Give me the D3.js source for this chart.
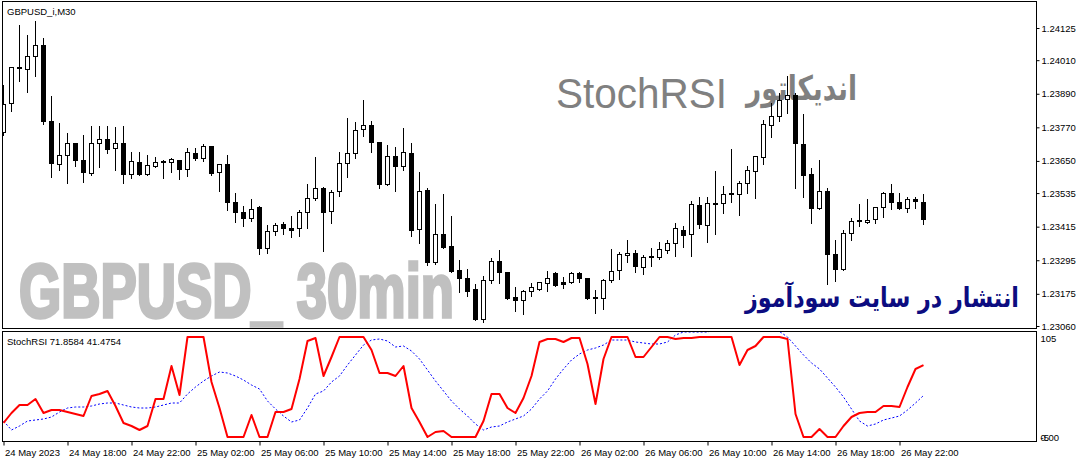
<!DOCTYPE html>
<html><head><meta charset="utf-8">
<script src="https://cdn.jsdelivr.net/npm/d3@7"></script>
<style>html,body{margin:0;padding:0;background:#fff;} svg{display:block;}</style>
</head><body>
<svg id="c" width="1083" height="462"></svg>
<script>
// ---------------- DATA ----------------
const symbolLabel = "GBPUSD_i,M30";
const startTime = "2023-05-24 14:00"; // first bar, M30 bars
const open = [1.23751,1.23856,1.23984,1.23977,1.24024,1.24064,1.23790,1.23638,1.23669,1.23713,
1.23653,1.23606,1.23713,1.23725,1.23695,1.23713,1.23602,1.23645,1.23602,1.23631,
1.23646,1.23645,1.23650,1.23619,1.23677,1.23659,1.23701,1.23609,1.23638,1.23502,
1.23467,1.23445,1.23483,1.23338,1.23399,1.23421,1.23410,1.23407,1.23466,1.23514,
1.23550,1.23468,1.23541,1.23641,1.23675,1.23763,1.23776,1.23716,1.23566,1.23665,
1.23631,1.23675,1.23405,1.23546,1.23286,1.23388,1.23343,1.23260,1.23228,1.23189,
1.23085,1.23222,1.23292,1.23252,1.23161,1.23150,1.23183,1.23192,1.23212,1.23249,
1.23214,1.23215,1.23249,1.23231,1.23161,1.23157,1.23224,1.23257,1.23311,1.23320,
1.23268,1.23309,1.23304,1.23329,1.23355,1.23403,1.23388,1.23492,1.23420,1.23498,
1.23498,1.23534,1.23531,1.23570,1.23611,1.23663,1.23776,1.23808,1.23870,1.23885,
1.23710,1.23600,1.23481,1.23540,1.23317,1.23263,1.23389,1.23435,1.23429,1.23441,
1.23484,1.23534,1.23502,1.23481,1.23513,1.23502];
const high = [1.23921,1.23986,1.24136,1.24100,1.24150,1.24088,1.23882,1.23784,1.23749,1.23715,
1.23743,1.23775,1.23775,1.23775,1.23772,1.23775,1.23681,1.23681,1.23671,1.23665,
1.23653,1.23661,1.23653,1.23697,1.23697,1.23710,1.23703,1.23640,1.23671,1.23534,
1.23489,1.23514,1.23489,1.23421,1.23429,1.23430,1.23453,1.23474,1.23567,1.23663,
1.23556,1.23546,1.23683,1.23804,1.23788,1.23868,1.23793,1.23718,1.23707,1.23699,
1.23766,1.23713,1.23610,1.23552,1.23496,1.23532,1.23453,1.23296,1.23264,1.23210,
1.23239,1.23304,1.23332,1.23254,1.23200,1.23189,1.23212,1.23218,1.23256,1.23253,
1.23234,1.23253,1.23253,1.23233,1.23189,1.23229,1.23335,1.23323,1.23367,1.23332,
1.23314,1.23338,1.23359,1.23367,1.23429,1.23417,1.23507,1.23522,1.23522,1.23614,
1.23560,1.23692,1.23579,1.23632,1.23665,1.23796,1.23858,1.23892,1.23953,1.23892,
1.23818,1.23626,1.23653,1.23554,1.23367,1.23403,1.23445,1.23496,1.23514,1.23486,
1.23540,1.23567,1.23534,1.23522,1.23522,1.23532];
const low = [1.23743,1.23829,1.23937,1.23897,1.23954,1.23781,1.23594,1.23617,1.23572,1.23633,
1.23576,1.23600,1.23629,1.23679,1.23617,1.23572,1.23588,1.23600,1.23600,1.23627,
1.23590,1.23611,1.23584,1.23597,1.23653,1.23651,1.23600,1.23543,1.23474,1.23433,
1.23418,1.23436,1.23316,1.23322,1.23385,1.23388,1.23379,1.23383,1.23411,1.23512,
1.23329,1.23429,1.23525,1.23594,1.23659,1.23740,1.23683,1.23552,1.23564,1.23543,
1.23617,1.23383,1.23358,1.23278,1.23280,1.23340,1.23252,1.23183,1.23168,1.23083,
1.23075,1.23215,1.23215,1.23156,1.23114,1.23103,1.23168,1.23189,1.23186,1.23203,
1.23197,1.23212,1.23218,1.23156,1.23107,1.23121,1.23217,1.23229,1.23290,1.23254,
1.23247,1.23275,1.23299,1.23320,1.23310,1.23343,1.23310,1.23411,1.23361,1.23388,
1.23465,1.23504,1.23457,1.23536,1.23516,1.23638,1.23736,1.23794,1.23820,1.23552,
1.23520,1.23429,1.23479,1.23209,1.23222,1.23261,1.23367,1.23418,1.23427,1.23429,
1.23451,1.23478,1.23479,1.23468,1.23481,1.23423];
const close = [1.23852,1.23984,1.23980,1.24024,1.24064,1.23790,1.23639,1.23670,1.23713,1.23651,
1.23608,1.23713,1.23728,1.23691,1.23713,1.23602,1.23647,1.23602,1.23632,1.23645,
1.23647,1.23656,1.23619,1.23681,1.23658,1.23701,1.23604,1.23638,1.23501,1.23466,
1.23445,1.23477,1.23338,1.23397,1.23420,1.23409,1.23402,1.23466,1.23514,1.23550,
1.23466,1.23538,1.23641,1.23677,1.23758,1.23776,1.23716,1.23566,1.23665,1.23631,
1.23681,1.23403,1.23542,1.23286,1.23388,1.23341,1.23256,1.23230,1.23183,1.23085,
1.23224,1.23292,1.23250,1.23160,1.23150,1.23185,1.23196,1.23215,1.23231,1.23206,
1.23207,1.23246,1.23229,1.23160,1.23157,1.23224,1.23255,1.23314,1.23320,1.23272,
1.23305,1.23306,1.23332,1.23355,1.23407,1.23383,1.23495,1.23423,1.23498,1.23499,
1.23531,1.23529,1.23570,1.23614,1.23665,1.23781,1.23808,1.23865,1.23885,1.23713,
1.23597,1.23481,1.23542,1.23316,1.23263,1.23391,1.23433,1.23437,1.23438,1.23484,
1.23534,1.23502,1.23481,1.23513,1.23504,1.23441];
const stochMain = [14,24,32,32,38,24,27,27,25,23,
21,41,43,46,31,14,11,7,11,38,
38,71,42,100,100,100,55,29,0,0,
0,22,0,0,25,25,28,58,96,99,
61,80,100,100,100,100,87,64,64,61,
71,29,15,0,5,6,0,0,0,0,
16,43,43,29,24,39,61,95,98,98,
95,99,99,73,33,78,100,100,100,80,
80,90,100,100,98,99,99,100,100,100,
100,100,72,87,91,100,100,100,98,23,
0,0,8,0,0,11,20,24,25,25,
31,31,30,50,68,71.8584];
const stochSignal = [16,7,11,16,17,18,20,25,29,30,
30,31,33,34,34,32,30,29,29,30,
32,34,34,43,50,56,61,65,64,61,
57,52,48,36,28,21,15,17,29,43,
46,55,61,72,82,92,97,98,96,90,
91,86,78,67,56,46,36,28,21,13,
7,10,11,15,18,21,28,38,46,58,
68,77,83,87,89,92,97,97,97,95,
94,93,93,95,102,105,105,105,105,107,
108,108,107,106,106,106,106,105.5,100,91,
82,74,68,59,50,40,28,16,11,13,
17,19,21,27,34,41.4754];
const priceTicks = ["1.24125","1.24010","1.23890","1.23770","1.23650","1.23535","1.23415","1.23295","1.23175","1.23060"];
const timeTickTimes = ["2023-05-24 14:00","2023-05-24 18:00","2023-05-24 22:00","2023-05-25 02:00","2023-05-25 06:00",
"2023-05-25 10:00","2023-05-25 14:00","2023-05-25 18:00","2023-05-25 22:00","2023-05-26 02:00","2023-05-26 06:00",
"2023-05-26 10:00","2023-05-26 14:00","2023-05-26 18:00","2023-05-26 22:00"];
const timeTickLabels = ["24 May 2023","24 May 18:00","24 May 22:00","25 May 02:00","25 May 06:00",
"25 May 10:00","25 May 14:00","25 May 18:00","25 May 22:00","26 May 02:00","26 May 06:00",
"26 May 10:00","26 May 14:00","26 May 18:00","26 May 22:00"];
const indTicks = ["105", "0.00", "-5"];
const indLabel = "StochRSI 71.8584 41.4754";

// ---------------- DRAW ----------------
const FONT = "'Liberation Sans', Arial, sans-serif";
const svg = d3.select("#c");
const parse = d3.timeParse("%Y-%m-%d %H:%M");
const t0 = parse(startTime);
const barTimes = open.map((_, i) => d3.timeMinute.offset(t0, 30 * i));
const bars = open.map((o, i) => ({i, t: barTimes[i], o, h: high[i], l: low[i], c: close[i]}));

const L = 2.5, R = 1036.5;
const mainTop = 1.5, mainBot = 328.5;
const indTop = 331.5, indBot = 441.5;

const x = d3.scaleLinear().domain([0, open.length - 1]).range([3.5, 3.5 + 8 * (open.length - 1)]);
const y = d3.scaleLinear().domain([1.23060, 1.24125]).range([326, 28]);
const yi = d3.scaleLinear().domain([-5, 105]).range([442, 332]);
const px = v => Math.round(v - 0.5) + 0.5;

const defs = svg.append("defs");
defs.append("clipPath").attr("id", "cm").append("rect")
  .attr("x", L + 0.5).attr("y", mainTop + 0.5).attr("width", R - L - 1).attr("height", mainBot - mainTop - 1);
defs.append("clipPath").attr("id", "ci").append("rect")
  .attr("x", L + 0.5).attr("y", indTop + 0.5).attr("width", R - L - 1).attr("height", indBot - indTop - 1);

// watermark text fitted horizontally to a target width via a scale transform
function fitText(g, str, x0, yBase, width, attrs) {
  const t = g.append("text").attr("x", 0).attr("y", 0);
  Object.entries(attrs).forEach(([k, v]) => t.attr(k, v));
  t.text(str);
  const w = t.node().getComputedTextLength();
  t.attr("transform", `translate(${x0},${yBase}) scale(${width / w},1)`);
  return t;
}

const wm = svg.append("g").attr("clip-path", "url(#cm)");
fitText(wm, "GBPUSD_ 30min", 19, 316.5, 435, {
  "font-family": FONT, "font-weight": "bold", "font-size": 76, fill: "#c0c0c0",
  stroke: "#c0c0c0", "stroke-width": 3.5, "stroke-linejoin": "miter"});
fitText(wm, "StochRSI", 556, 108, 171, {"font-family": FONT, "font-size": 43, fill: "#808080"});
fitText(wm, "اندیکاتور", 746, 100, 111, {"font-family": "'DejaVu Sans', sans-serif", "font-weight": "bold", "font-size": 34, fill: "#808080"});
fitText(wm, "انتشار در سایت سودآموز", 745, 306.5, 274, {"font-family": "'DejaVu Sans', sans-serif", "font-weight": "bold", "font-size": 27, fill: "#0c0c80"});

// candles
const cg = svg.append("g").attr("clip-path", "url(#cm)");
cg.selectAll("line.w").data(bars).join("line").attr("class", "w")
  .attr("x1", d => x(d.i)).attr("x2", d => x(d.i))
  .attr("y1", d => Math.round(y(d.h))).attr("y2", d => Math.round(y(d.l)) + 1)
  .attr("stroke", "#000").attr("stroke-width", 1);
cg.selectAll("rect.b").data(bars).join("rect").attr("class", "b")
  .attr("x", d => x(d.i) - 2)
  .attr("y", d => px(y(Math.max(d.o, d.c))))
  .attr("width", 4)
  .attr("height", d => Math.max(1, px(y(Math.min(d.o, d.c))) - px(y(Math.max(d.o, d.c)))))
  .attr("fill", d => d.c > d.o ? "#fff" : "#000")
  .attr("stroke", "#000").attr("stroke-width", 1);

// frames
svg.append("rect").attr("x", L).attr("y", mainTop).attr("width", R - L).attr("height", mainBot - mainTop)
  .attr("fill", "none").attr("stroke", "#000");
svg.append("rect").attr("x", L).attr("y", indTop).attr("width", R - L).attr("height", indBot - indTop)
  .attr("fill", "none").attr("stroke", "#000");

// symbol label
svg.append("text").attr("x", 7).attr("y", 14.5).attr("font-family", FONT).attr("font-size", 9.5)
  .attr("fill", "#000").text(symbolLabel);

// price axis
const pa = svg.append("g").attr("transform", `translate(${R},0)`)
  .call(d3.axisRight(y).tickValues(priceTicks.map(Number)).tickFormat((d, i) => priceTicks[i]).tickSize(3).tickPadding(2));
pa.select(".domain").remove();
pa.selectAll("text").attr("font-family", FONT).attr("font-size", 9.5).attr("fill", "#000");
pa.selectAll(".tick line").attr("stroke", "#000");

// indicator lines
const ig = svg.append("g").attr("clip-path", "url(#ci)");
ig.append("path").datum(stochSignal)
  .attr("d", d3.line().x((d, i) => x(i)).y(d => yi(d)))
  .attr("fill", "none").attr("stroke", "#0000ff").attr("stroke-width", 1).attr("stroke-dasharray", "2,2");
ig.append("path").datum(stochMain)
  .attr("d", d3.line().x((d, i) => x(i)).y(d => yi(d)))
  .attr("fill", "none").attr("stroke", "#ff0000").attr("stroke-width", 2).attr("stroke-linejoin", "round");

svg.append("text").attr("x", 7).attr("y", 344.5).attr("font-family", FONT).attr("font-size", 9.5)
  .attr("fill", "#000").text(indLabel);

// indicator scale labels (MT4 draws the 0.00 and -5 marks on top of each other)
svg.append("text").attr("x", R + 4).attr("y", yi(105) + 10).attr("font-family", FONT).attr("font-size", 9.5).text(indTicks[0]);
svg.append("text").attr("x", R + 4).attr("y", yi(0) + 3.5).attr("font-family", FONT).attr("font-size", 9.5).text(indTicks[1]);
svg.append("text").attr("x", R + 4).attr("y", yi(0) + 3.5).attr("font-family", FONT).attr("font-size", 9.5).text(indTicks[2]);

// time axis
const tickIdx = timeTickTimes.map(s => barTimes.findIndex(t => +t === +parse(s)));
const ta = svg.append("g").attr("transform", `translate(0,${indBot})`)
  .call(d3.axisBottom(x).tickValues(tickIdx).tickFormat((d, i) => timeTickLabels[i]).tickSize(4).tickPadding(4));
ta.select(".domain").remove();
ta.selectAll(".tick line").attr("stroke", "#000");
ta.selectAll("text").attr("font-family", FONT).attr("font-size", 9.5).attr("fill", "#000")
  .attr("text-anchor", "start").attr("dx", 1);
</script>
</body></html>
